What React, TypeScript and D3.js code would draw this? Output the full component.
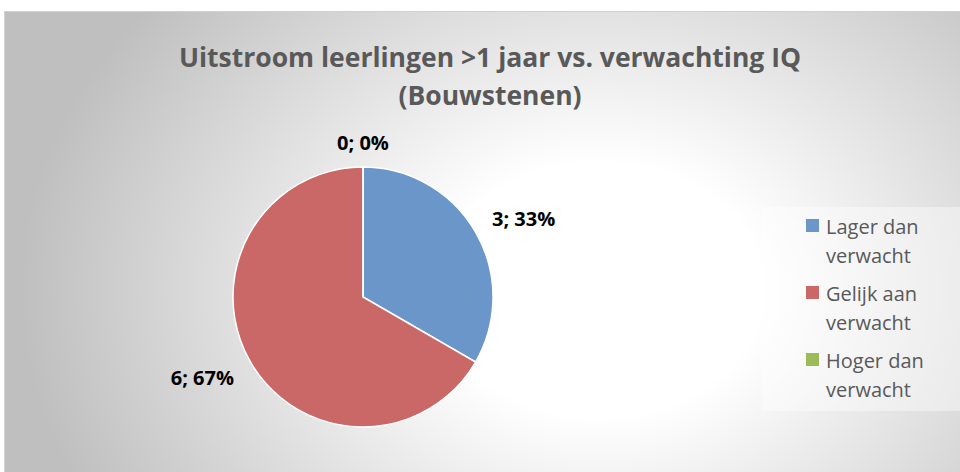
import React from "react";
import * as d3 from "d3";

const categories = ["Lager dan verwacht", "Gelijk aan verwacht", "Hoger dan verwacht"];
const legendLines = [["Lager dan", "verwacht"], ["Gelijk aan", "verwacht"], ["Hoger dan", "verwacht"]];
const values = [3, 6, 0];
const colors = ["#6a96c9", "#c96866", "#9bbb59"];
const titleLines = ["Uitstroom leerlingen >1 jaar vs. verwachting IQ", "(Bouwstenen)"];

export default function App() {
  const W = 960, H = 472;
  const cx = 363, cy = 297, r = 130;
  const total = d3.sum(values);
  const pie = d3.pie<number>().sort(null).value((d) => d);
  const arcs = pie(values);
  const arc = d3.arc<d3.PieArcDatum<number>>().innerRadius(0).outerRadius(r);
  const font = "'Open Sans', sans-serif";

  return (
    <svg width={W} height={H} style={{ position: "absolute", left: 0, top: 0 }}>
      <defs>
        <radialGradient id="bg" gradientUnits="userSpaceOnUse" cx={600} cy={290} r={580}
          gradientTransform="translate(600,290) scale(1,0.78) translate(-600,-290)">
          <stop offset="0%" stopColor="#ffffff" />
          <stop offset="28%" stopColor="#ffffff" />
          <stop offset="100%" stopColor="#bfbfbf" />
        </radialGradient>
      </defs>
      <rect x={0} y={0} width={W} height={H} fill="#ffffff" />
      <rect x={4.5} y={11.5} width={W} height={H} fill="url(#bg)" stroke="#d0d0d0" strokeWidth={1} />
      {titleLines.map((t, i) => (
        <text key={i} x={490} y={67 + i * 38} textAnchor="middle" fontFamily={font} fontWeight="bold" fontSize={26.5} fill="#595959">
          {t}
        </text>
      ))}
      <g>
        {arcs.map((a, i) => (
          <path key={i} d={arc(a) || ""} transform={`translate(${cx},${cy})`} fill={colors[i]} stroke="#ffffff" strokeWidth={1.5} />
        ))}
      </g>
      {arcs.map((a, i) => {
        const pct = Math.round((values[i] / total) * 100);
        const label = `${values[i]}; ${pct}%`;
        if (values[i] === 0) {
          return (
            <text key={i} x={cx} y={cy - r - 22} textAnchor="middle" dominantBaseline="middle" fontFamily={font} fontWeight="bold" fontSize={20} fill="#000000">
              {label}
            </text>
          );
        }
        const mid = (a.startAngle + a.endAngle) / 2;
        const rr = r + 19;
        const ax = Math.sin(mid) * rr;
        const ay = -Math.cos(mid) * rr;
        const right = ax >= 0;
        return (
          <text key={i} x={cx + ax} y={cy + ay + (ay < 0 ? -2 : 8)} textAnchor={right ? "start" : "end"} dominantBaseline="middle" fontFamily={font} fontWeight="bold" fontSize={20} fill="#000000">
            {label}
          </text>
        );
      })}
      <rect x={762} y={207} width={198} height={204} fill="#ffffff" opacity={0.4} />
      {categories.map((c, i) => (
        <g key={c}>
          <rect x={806} y={219 + i * 67} width={13} height={13} fill={colors[i]} />
          {legendLines[i].map((l, j) => (
            <text key={j} x={826} y={234 + i * 67 + j * 29} fontFamily={font} fontSize={20} fill="#595959">
              {l}
            </text>
          ))}
        </g>
      ))}
    </svg>
  );
}
